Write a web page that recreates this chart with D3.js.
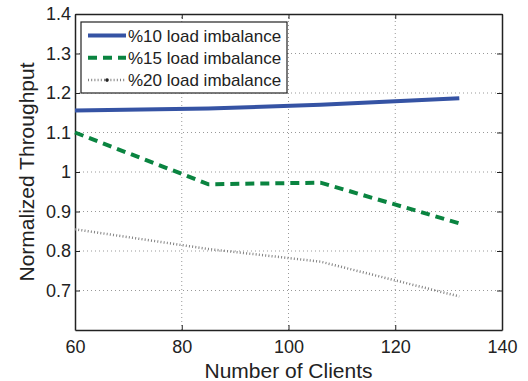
<!DOCTYPE html>
<html>
<head>
<meta charset="utf-8">
<script src="https://cdn.jsdelivr.net/npm/d3@7"></script>
<style>
  body { margin: 0; background: #fff; }
  svg { display: block; font-family: "Liberation Sans", Arial, sans-serif; }
</style>
</head>
<body>
<div id="chart"></div>
<script>
// datos
const clients = [60, 85, 106, 132];
const load10 = [1.156, 1.161, 1.170, 1.187];
const load15 = [1.100, 0.969, 0.973, 0.870];
const load20 = [0.855, 0.805, 0.773, 0.685];
const seriesNames = ['%10 load imbalance', '%15 load imbalance', '%20 load imbalance'];
const xTicks = [60, 80, 100, 120, 140];
const yTicks = [0.7, 0.8, 0.9, 1, 1.1, 1.2, 1.3, 1.4];

const width = 528;
const height = 381;
const margin = {left: 75, right: 26, top: 14, bottom: 51};

const svg = d3.select('#chart')
  .append('svg')
  .attr('width', width)
  .attr('height', height);

const x = d3.scaleLinear()
  .domain([60, 140])
  .range([margin.left, width - margin.right]);

const y = d3.scaleLinear()
  .domain([0.6, 1.4])
  .range([height - margin.bottom, margin.top]);

// rejilla punteada
const grid = svg.append('g');
grid.selectAll('.gx')
  .data(xTicks.slice(1, -1))
  .enter()
  .append('line')
  .attr('x1', d => x(d)).attr('x2', d => x(d))
  .attr('y1', y(0.6)).attr('y2', y(1.4))
  .attr('stroke', '#999')
  .attr('stroke-width', 1)
  .attr('stroke-dasharray', '1 3');
grid.selectAll('.gy')
  .data(yTicks.filter(d => d < 1.4))
  .enter()
  .append('line')
  .attr('x1', x(60)).attr('x2', x(140))
  .attr('y1', d => y(d)).attr('y2', d => y(d))
  .attr('stroke', '#999')
  .attr('stroke-width', 1)
  .attr('stroke-dasharray', '1 3');

// ejes
const axisX = d3.axisBottom(x).tickValues(xTicks).tickSizeInner(-5).tickSizeOuter(0).tickPadding(10);
const gx = svg.append('g')
  .attr('transform', `translate(0,${y(0.6)})`)
  .call(axisX);
const axisY = d3.axisLeft(y).tickValues(yTicks).tickSizeInner(-5).tickSizeOuter(0).tickPadding(4)
  .tickFormat(d3.format('~g'));
const gy = svg.append('g')
  .attr('transform', `translate(${x(60)},0)`)
  .call(axisY);
const axisTop = d3.axisTop(x).tickValues(xTicks).tickSizeInner(-5).tickSizeOuter(0).tickFormat('');
svg.append('g').attr('transform', `translate(0,${y(1.4)})`).call(axisTop);
const axisRight = d3.axisRight(y).tickValues(yTicks).tickSizeInner(-5).tickSizeOuter(0).tickFormat('');
svg.append('g').attr('transform', `translate(${x(140)},0)`).call(axisRight);

svg.selectAll('.domain').attr('stroke', '#222').attr('stroke-width', 1.5);
svg.selectAll('.tick line').attr('stroke', '#222');
svg.selectAll('.tick text').attr('font-size', 18).attr('fill', '#222').attr('font-family', '"Liberation Sans", Arial, sans-serif');

// lineas
const line = d3.line()
  .x((d, i) => x(clients[i]))
  .y(d => y(d));

const styles = [
  {data: load10, color: '#3553a4', width: 4, dash: null},
  {data: load15, color: '#0a8440', width: 4, dash: '9 6'},
  {data: load20, color: '#808080', width: 2.5, dash: '1 2.2'}
];

styles.forEach(s => {
  svg.append('path')
    .attr('fill', 'none')
    .attr('stroke', s.color)
    .attr('stroke-width', s.width)
    .attr('stroke-dasharray', s.dash)
    .attr('d', line(s.data));
});

// leyenda
const legend = svg.append('g');
legend.append('rect')
  .attr('x', 81).attr('y', 22)
  .attr('width', 206).attr('height', 71)
  .attr('fill', '#fff')
  .attr('stroke', '#222')
  .attr('stroke-width', 1.2);

seriesNames.forEach((name, i) => {
  const ly = 35.5 + i * 22.3;
  legend.append('line')
    .attr('x1', 88).attr('x2', 126)
    .attr('y1', ly).attr('y2', ly)
    .attr('stroke', styles[i].color)
    .attr('stroke-width', styles[i].width)
    .attr('stroke-dasharray', styles[i].dash);
  if (i === 2) {
    legend.append('circle')
      .attr('cx', 107).attr('cy', ly).attr('r', 1.8)
      .attr('fill', '#222');
  }
  legend.append('text')
    .attr('x', 128).attr('y', ly + 6)
    .attr('font-size', 17)
    .attr('fill', '#222')
    .text(name);
});

// titulos de los ejes
svg.append('text')
  .attr('x', (x(60) + x(140)) / 2)
  .attr('y', 378)
  .attr('text-anchor', 'middle')
  .attr('font-size', 21)
  .attr('fill', '#222')
  .text('Number of Clients');

svg.append('text')
  .attr('transform', `translate(34,${(y(0.6) + y(1.4)) / 2}) rotate(-90)`)
  .attr('text-anchor', 'middle')
  .attr('font-size', 21)
  .attr('fill', '#222')
  .text('Normalized Throughput');
</script>
</body>
</html>
